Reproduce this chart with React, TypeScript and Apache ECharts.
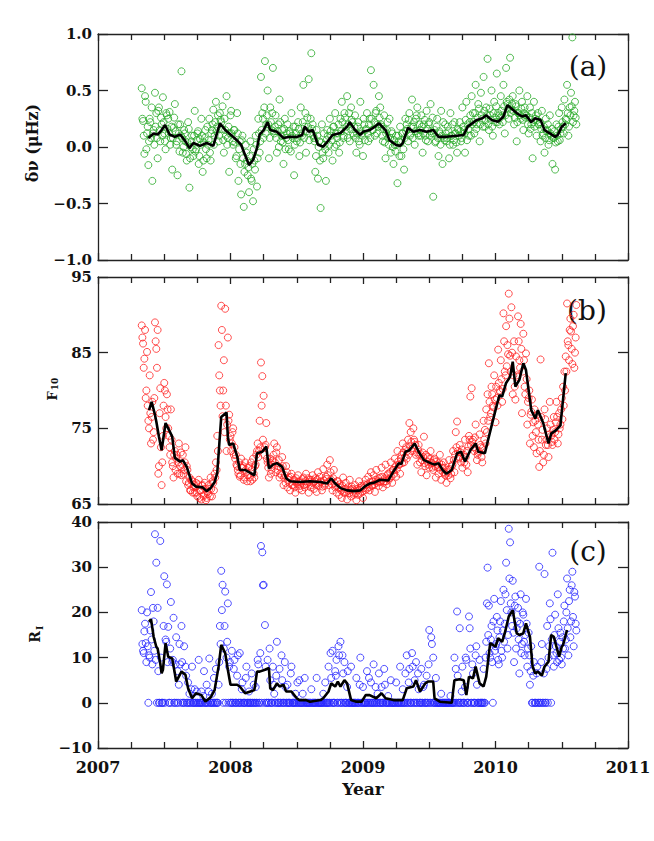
import React, { useEffect, useRef } from "react";
import * as echarts from "echarts";

// sampling: first epoch and step (years); second sample set is offset by half a step
const T0 = 2007.33;
const STEP = 0.01;
const T0B = 2007.335;

// (a) frequency shift, micro-Hz
const dnuValues = [
  0.52, 0.23, -0.06, 0.40, 0.12, -0.16, 0.25, 0.08, -0.30, 0.15,
  0.48, 0.30, -0.10, 0.35, 0.05, 0.20, 0.44, 0.12, -0.02, 0.28,
  0.25, 0.31, 0.08, -0.20, 0.17, 0.38, 0.02, -0.25, 0.12, 0.20,
  0.67, -0.05, 0.15, 0.05, -0.12, 0.22, -0.36, 0.0, 0.10, -0.08,
  0.32, -0.02, 0.12, -0.15, 0.07, 0.25, -0.22, 0.04, 0.15, -0.10,
  0.02, 0.25, -0.12, 0.15, 0.33, 0.10, 0.40, 0.18, 0.05, 0.30,
  0.22, 0.36, -0.05, 0.15, 0.45, 0.08, -0.22, 0.28, 0.12, 0.02,
  0.15, -0.10, 0.30, -0.30, 0.05, -0.42, 0.10, -0.53, -0.15, -0.05,
  -0.25, -0.40, 0.05, -0.30, -0.48, -0.12, 0.10, -0.35, 0.25, -0.05,
  0.62, 0.30, 0.08, 0.76, 0.20, 0.50, -0.10, 0.35, 0.15, 0.70,
  0.12, 0.28, -0.05, 0.20, 0.42, 0.05, 0.15, -0.15, 0.25, 0.08,
  0.20, -0.02, 0.12, 0.30, 0.08, -0.25, 0.18, 0.05, 0.22, -0.08,
  0.35, 0.10, 0.55, 0.18, -0.05, 0.26, 0.60, 0.12, 0.83, 0.20,
  0.08, -0.22, 0.15, -0.28, 0.05, -0.54, 0.20, -0.10, 0.02, -0.30,
  0.15, -0.05, 0.25, 0.10, -0.12, 0.18, 0.30, 0.02, 0.12, -0.05,
  0.25, 0.40, 0.08, 0.30, 0.15, 0.45, 0.20, 0.05, 0.35, 0.22,
  0.10, 0.28, -0.05, 0.18, 0.05, 0.40, 0.12, -0.08, 0.20, 0.15,
  0.30, 0.05, 0.25, 0.68, 0.15, 0.55, 0.10, 0.32, 0.20, 0.45,
  0.35, 0.18, 0.05, 0.28, -0.10, 0.15, 0.08, 0.25, -0.05, 0.12,
  -0.15, 0.02, 0.10, -0.32, 0.05, 0.18, -0.08, 0.12, -0.20, 0.25,
  0.20, 0.05, 0.30, 0.12, 0.42, 0.18, 0.02, 0.25, 0.35, 0.10,
  0.15, 0.28, -0.05, 0.20, 0.10, 0.32, 0.05, 0.22, 0.38, 0.12,
  -0.44, 0.15, 0.05, 0.25, -0.08, 0.12, 0.32, -0.15, 0.08, 0.20,
  0.05, 0.18, -0.10, 0.30, 0.10, 0.02, 0.22, 0.12, -0.05, 0.15,
  0.22, 0.05, 0.35, 0.15, -0.05, 0.40, 0.20, 0.10, 0.28, 0.45,
  0.30, 0.12, 0.55, 0.20, 0.38, 0.05, 0.48, 0.25, 0.62, 0.18,
  0.35, 0.78, 0.15, 0.28, 0.50, 0.10, 0.40, 0.22, 0.65, 0.30,
  0.20, 0.45, 0.28, 0.55, 0.12, 0.70, 0.38, 0.25, 0.79, 0.33,
  0.45, 0.20, 0.38, 0.05, 0.30, 0.50, 0.25, 0.40, 0.15, 0.35,
  0.28, 0.45, 0.12, 0.35, 0.20, -0.10, 0.40, 0.25, 0.10, 0.30,
  0.20, 0.05, 0.32, 0.12, -0.05, 0.25, 0.15, 0.02, 0.28, 0.10,
  -0.15, 0.08, -0.20, 0.20, 0.05, 0.30, 0.12, 0.35, 0.18, 0.42,
  0.25, 0.55, 0.10, 0.35, 0.48, 0.97, 0.28, 0.40, 0.20,
];
const dnuValuesB = [
  0.25, 0.10, 0.45, -0.02, 0.18, 0.05, 0.22, 0.35, 0.12, 0.02,
  0.18, 0.08, 0.32, 0.15, 0.26, 0.10, 0.22, 0.05, 0.30, 0.16,
  0.12, 0.02, 0.18, 0.08, 0.26, 0.14, 0.05, 0.20, -0.04, 0.10,
  0.08, 0.00, 0.12, -0.06, 0.04, 0.16, -0.10, 0.05, -0.02, 0.10,
  -0.04, 0.06, 0.14, -0.08, 0.02, 0.10, -0.12, 0.08, -0.02, 0.18,
  0.06, -0.05, 0.12, 0.20, 0.02, 0.22, 0.14, 0.28, 0.10, 0.24,
  0.16, 0.06, 0.25, 0.10, 0.02, 0.18, 0.12, 0.32, 0.05, 0.15,
  0.04, -0.08, 0.12, -0.02, -0.15, 0.06, -0.10, -0.22, 0.02, -0.12,
  -0.18, -0.08, -0.28, -0.15, -0.02, -0.20, 0.02, -0.10, 0.12, 0.05,
  0.15, 0.25, 0.35, 0.12, 0.28, 0.20, 0.08, 0.22, 0.30, 0.14,
  0.18, 0.08, 0.14, 0.00, 0.22, 0.10, 0.04, 0.16, -0.02, 0.12,
  0.06, 0.14, -0.04, 0.10, 0.18, 0.02, 0.12, 0.08, 0.16, 0.04,
  0.12, 0.22, 0.08, 0.30, 0.14, 0.18, 0.06, 0.25, 0.16, 0.10,
  0.05, -0.08, 0.10, 0.00, -0.12, 0.04, -0.05, 0.12, -0.02, 0.06,
  0.10, 0.02, 0.14, 0.06, 0.18, 0.00, 0.12, 0.08, 0.20, 0.04,
  0.14, 0.22, 0.10, 0.26, 0.18, 0.08, 0.30, 0.16, 0.24, 0.12,
  0.18, 0.08, 0.12, 0.22, 0.02, 0.14, 0.10, 0.25, 0.06, 0.16,
  0.12, 0.20, 0.08, 0.25, 0.15, 0.22, 0.30, 0.12, 0.18, 0.26,
  0.20, 0.10, 0.16, 0.04, 0.12, 0.22, 0.02, 0.08, 0.14, 0.00,
  0.06, -0.04, 0.02, 0.10, -0.08, 0.04, 0.12, -0.02, 0.08, 0.14,
  0.16, 0.24, 0.10, 0.18, 0.08, 0.22, 0.14, 0.28, 0.12, 0.20,
  0.10, 0.18, 0.12, 0.24, 0.06, 0.16, 0.20, 0.10, 0.14, 0.26,
  0.12, 0.04, 0.18, 0.08, 0.14, 0.02, 0.10, 0.22, 0.06, 0.12,
  0.08, 0.14, 0.02, 0.10, 0.20, 0.06, 0.12, 0.04, 0.16, 0.10,
  0.14, 0.08, 0.18, 0.12, 0.24, 0.06, 0.16, 0.22, 0.10, 0.20,
  0.22, 0.30, 0.16, 0.26, 0.34, 0.20, 0.28, 0.18, 0.32, 0.24,
  0.28, 0.20, 0.34, 0.24, 0.18, 0.30, 0.26, 0.36, 0.22, 0.28,
  0.26, 0.32, 0.22, 0.36, 0.28, 0.40, 0.34, 0.42, 0.30, 0.38,
  0.32, 0.26, 0.36, 0.22, 0.30, 0.28, 0.34, 0.24, 0.30, 0.26,
  0.28, 0.20, 0.26, 0.16, 0.30, 0.22, 0.18, 0.28, 0.24, 0.20,
  0.22, 0.16, 0.10, 0.18, 0.08, 0.14, 0.20, 0.06, 0.12, 0.16,
  0.08, 0.14, 0.04, 0.10, 0.18, 0.06, 0.16, 0.22, 0.12, 0.20,
  0.24, 0.30, 0.18, 0.28, 0.36, 0.22, 0.32, 0.26,
];

// (b) 10.7 cm radio flux
const f10Values = [
  88.6, 86.2, 84.2, 79.0, 85.1, 76.0, 82.0, 73.0, 78.5, 74.5,
  89.0, 85.5, 88.0, 70.0, 80.3, 67.5, 74.0, 81.0, 76.5, 79.5,
  75.0, 72.5, 77.5, 70.5, 68.5, 72.0, 71.0, 69.0, 73.0, 70.0,
  68.8, 71.5, 69.5, 72.5, 70.0, 67.5, 68.5, 66.8, 68.0, 67.2,
  66.5, 67.8, 66.0, 68.2, 66.8, 65.6, 67.5, 66.2, 67.0, 65.8,
  66.3, 67.0, 68.5, 66.0, 67.8, 69.0, 70.5, 74.0, 86.0, 80.0,
  91.2, 76.6, 84.0, 90.8, 72.0, 87.0, 76.8, 74.0, 73.0, 75.0,
  72.5, 71.5, 70.0, 69.0, 68.6, 71.0, 69.8, 68.2, 70.5, 69.2,
  68.8, 70.0, 68.0, 69.5, 71.0, 68.5, 70.2, 72.0, 71.2, 76.0,
  83.7, 81.9, 79.3, 72.5, 75.7, 70.5, 68.5, 71.0, 69.5, 70.8,
  73.0, 69.2, 72.5, 70.0, 68.5, 69.8, 71.2, 67.5, 68.8, 70.0,
  67.2, 68.5, 66.8, 69.0, 67.5, 68.2, 66.5, 67.8, 68.8, 67.0,
  68.0, 66.8, 68.5, 67.2, 69.0, 67.8, 66.5, 68.2, 67.5, 68.8,
  67.0, 68.4, 66.6, 69.2, 67.8, 68.0, 66.8, 69.6, 67.4, 68.6,
  70.2, 67.5, 70.8, 68.2, 66.8, 69.5, 67.2, 66.5, 68.0, 66.2,
  67.2, 65.8, 68.5, 66.5, 67.8, 65.6, 66.8, 68.2, 66.0, 67.0,
  66.2, 67.5, 65.5, 66.8, 68.0, 66.4, 67.2, 65.8, 67.6, 68.2,
  67.0, 68.6, 66.8, 69.2, 67.5, 68.8, 66.6, 69.5, 68.0, 67.4,
  68.5, 69.8, 67.2, 68.0, 70.2, 67.6, 69.0, 68.4, 70.5, 67.8,
  69.5, 71.0, 68.6, 72.0, 70.2, 69.0, 71.5, 73.0, 70.5, 72.2,
  71.0, 73.5, 75.7, 74.5, 72.0, 75.0, 73.2, 71.5, 70.2, 72.8,
  70.5, 69.2, 71.8, 73.9, 70.0, 68.8, 71.2, 69.8, 72.0, 70.4,
  69.5, 71.0, 68.5, 70.2, 69.0, 71.5, 68.2, 69.8, 70.5, 68.8,
  67.8, 69.5, 70.8, 68.4, 70.0, 72.0, 69.2, 74.5, 75.9, 71.0,
  72.8, 70.5, 69.8, 71.5, 73.5, 70.2, 69.2, 74.0, 79.2, 80.3,
  73.5, 72.0, 75.5, 70.8, 71.8, 74.2, 72.5, 70.5, 76.0, 74.8,
  77.5, 79.5, 83.6, 76.5, 80.5, 78.0, 82.0, 75.8, 79.0, 85.4,
  80.0, 84.0, 78.5, 90.2, 82.5, 88.5, 86.0, 92.8, 84.6, 91.0,
  79.5, 86.5, 78.8, 82.0, 89.8, 84.0, 88.8, 77.0, 87.5, 80.5,
  84.9, 75.5, 79.0, 73.0, 77.2, 74.0, 72.5, 76.0, 71.7, 75.5,
  69.9, 84.1, 73.5, 70.5, 77.5, 72.8, 75.0, 71.2, 78.5, 74.0,
  72.8, 76.5, 74.5, 78.5, 73.0, 77.0, 75.5, 79.0, 80.5, 82.5,
  84.5, 91.5, 86.0, 88.0, 87.8, 83.5, 90.0, 85.0, 91.3,
];
const f10ValuesB = [
  87.0, 83.0, 88.0, 80.0, 78.0, 75.0, 77.0, 76.5, 73.5, 79.0,
  86.5, 83.0, 69.0, 77.0, 72.5, 70.5, 78.0, 80.0, 75.0, 77.5,
  74.0, 71.5, 73.5, 70.0, 71.5, 69.5, 71.5, 70.5, 69.0, 71.8,
  70.2, 69.0, 70.5, 68.0, 69.5, 67.8, 66.8, 68.2, 66.5, 67.5,
  67.2, 66.5, 67.6, 65.8, 66.8, 67.4, 66.0, 67.8, 65.5, 66.6,
  67.5, 66.0, 67.0, 68.0, 66.8, 68.5, 69.5, 72.0, 82.0, 78.0,
  88.0, 80.0, 74.5, 78.0, 75.5, 76.0, 73.5, 72.0, 74.5, 71.5,
  71.0, 70.2, 69.5, 70.5, 68.8, 69.8, 70.0, 68.5, 69.5, 68.0,
  69.8, 68.5, 70.5, 68.2, 69.0, 70.0, 71.5, 73.0, 72.0, 72.5,
  78.0, 73.5, 71.5, 72.8, 71.0, 69.8, 70.5, 69.0, 70.2, 71.5,
  70.5, 71.8, 69.5, 70.8, 69.0, 68.8, 70.0, 68.5, 67.8, 69.2,
  68.2, 67.8, 68.6, 67.5, 68.0, 67.2, 68.4, 67.6, 68.0, 67.4,
  67.8, 68.3, 67.5, 68.0, 67.6, 68.4, 67.9, 67.2, 68.2, 67.8,
  68.0, 67.6, 68.2, 67.4, 68.6, 67.9, 67.3, 68.1, 67.7, 68.3,
  68.8, 68.0, 69.2, 67.6, 68.4, 67.8, 67.4, 68.0, 67.2, 67.6,
  66.8, 67.4, 66.5, 67.0, 66.6, 67.2, 66.4, 66.9, 67.3, 66.5,
  66.8, 66.4, 67.0, 66.2, 66.9, 67.4, 66.6, 67.1, 66.8, 67.5,
  67.6, 67.2, 67.9, 67.4, 68.0, 67.6, 68.2, 67.8, 68.4, 67.9,
  68.0, 68.6, 67.8, 68.4, 68.0, 68.8, 68.2, 69.2, 68.6, 69.5,
  69.0, 70.0, 69.6, 70.6, 70.2, 71.0, 70.4, 71.8, 71.2, 72.5,
  72.0, 71.5, 72.6, 73.2, 72.4, 73.5, 72.8, 71.8, 72.2, 71.5,
  71.6, 70.8, 71.2, 70.4, 71.5, 70.6, 70.2, 71.0, 70.5, 69.8,
  70.8, 70.0, 70.6, 69.8, 70.4, 69.5, 70.2, 69.2, 69.8, 69.0,
  69.2, 68.8, 69.6, 69.0, 70.2, 70.8, 71.5, 72.5, 72.0, 71.2,
  71.8, 72.2, 71.0, 70.5, 71.2, 72.0, 72.6, 73.5, 72.8, 73.2,
  72.5, 73.8, 72.2, 71.5, 72.0, 72.8, 71.2, 72.4, 73.5, 73.0,
  74.5, 76.0, 78.5, 77.0, 79.5, 77.8, 78.8, 80.5, 78.0, 81.0,
  79.8, 81.5, 80.2, 86.5, 82.0, 83.2, 84.8, 89.5, 82.5, 85.0,
  82.0, 80.5, 84.5, 81.8, 86.5, 83.0, 85.5, 82.5, 84.0, 79.5,
  81.5, 78.5, 80.0, 76.8, 78.8, 75.8, 77.5, 74.5, 76.8, 73.5,
  72.0, 76.5, 74.8, 71.5, 76.2, 73.5, 72.8, 74.2, 75.5, 73.2,
  74.8, 73.5, 75.8, 76.5, 74.2, 75.0, 77.5, 76.2, 78.0, 80.0,
  82.5, 86.5, 84.0, 89.5, 85.5, 88.5, 83.0, 87.0,
];

// (c) international sunspot number
const riValues = [
  20.5, 11.5, 15.8, 13.2, 20.0, 0, 10.0, 24.5, 8.5, 18.0,
  37.3, 31.0, 21.0, 0, 35.8, 0, 0, 28.0, 14.0, 26.2,
  16.8, 0, 22.3, 9.0, 18.8, 0, 14.5, 7.0, 4.0, 8.5,
  17.0, 0, 12.5, 8.0, 0, 4.5, 2.0, 0, 8.0, 0,
  3.0, 0, 0, 9.5, 0, 2.5, 0, 7.0, 0, 4.0,
  0, 9.8, 0, 2.0, 0, 0, 7.5, 0, 4.0, 17.0,
  29.2, 26.1, 12.0, 24.6, 10.0, 22.0, 8.0, 0, 11.5, 0,
  9.5, 0, 6.0, 0, 11.0, 0, 4.5, 0, 0, 8.0,
  0, 2.5, 0, 6.5, 0, 0, 3.5, 0, 8.5, 0,
  34.7, 33.3, 26.1, 17.2, 0, 9.5, 0, 5.0, 0, 8.0,
  2.0, 0, 13.5, 0, 7.5, 0, 5.0, 0, 9.0, 0,
  4.0, 0, 0, 8.0, 0, 0, 2.0, 0, 0, 5.0,
  0, 0, 0, 5.5, 0, 0, 0, 0, 3.0, 0,
  0, 0, 5.5, 0, 0, 0, 0, 2.0, 0, 0,
  0, 8.0, 0, 5.5, 11.5, 0, 7.0, 9.5, 0, 10.5,
  13.5, 0, 6.5, 9.0, 0, 3.5, 0, 0, 8.0, 0,
  0, 0, 5.5, 0, 0, 10.0, 0, 3.5, 0, 0,
  7.0, 0, 0, 4.5, 0, 8.5, 0, 0, 2.0, 6.5,
  0, 3.5, 0, 7.5, 0, 0, 1.5, 0, 5.0, 0,
  0, 0, 4.5, 0, 0, 8.0, 0, 3.0, 0, 6.5,
  10.5, 0, 7.5, 0, 11.0, 0, 5.0, 9.0, 0, 3.0,
  0, 7.5, 0, 4.0, 0, 6.0, 0, 16.1, 0, 13.0,
  10.0, 0, 5.5, 0, 0, 0, 2.0, 0, 0, 0,
  0, 0, 0, 1.5, 0, 0, 10.0, 7.5, 20.2, 0,
  16.5, 0, 8.0, 0, 3.5, 9.5, 0, 19.1, 12.0, 0,
  6.5, 0, 10.5, 4.0, 0, 9.5, 0, 0, 7.5, 0,
  13.5, 29.9, 21.5, 10.0, 17.0, 0, 23.0, 12.5, 19.0, 9.5,
  14.5, 22.5, 10.0, 25.0, 17.5, 31.0, 12.0, 38.5, 35.5, 20.0,
  27.0, 9.0, 23.5, 16.5, 21.0, 6.5, 24.0, 13.0, 19.5, 10.5,
  23.0, 8.0, 15.5, 4.0, 12.5, 0, 9.0, 0, 6.5, 0,
  30.1, 0, 13.0, 0, 28.5, 0, 17.0, 10.0, 22.0, 0,
  33.2, 8.0, 19.5, 11.0, 24.0, 9.5, 15.5, 8.5, 12.0, 21.5,
  14.0, 27.5, 10.5, 25.0, 18.0, 29.0, 12.5, 23.5, 16.0,
];
const riValuesB = [
  13.0, 11.0, 17.5, 9.0, 12.5, 10.5, 16.0, 14.0, 21.0, 11.5,
  9.5, 0, 7.0, 0, 10.0, 0, 17.0, 0, 13.5, 9.0,
  0, 12.0, 0, 9.5, 0, 8.5, 0, 0, 13.0, 0,
  9.0, 0, 0, 6.0, 0, 0, 0, 3.0, 0, 0,
  0, 2.5, 0, 0, 0, 0, 1.5, 0, 0, 0,
  2.5, 0, 0, 0, 5.5, 0, 0, 0, 9.0, 13.0,
  20.5, 0, 17.0, 0, 13.5, 0, 9.0, 0, 0, 7.5,
  0, 0, 10.5, 0, 0, 3.0, 0, 0, 5.5, 0,
  0, 0, 0, 0, 4.0, 0, 0, 9.5, 0, 11.0,
  0, 26.0, 0, 8.0, 0, 0, 12.0, 0, 0, 4.0,
  0, 6.0, 0, 0, 0, 10.5, 0, 0, 3.5, 0,
  0, 0, 6.5, 0, 0, 0, 0, 4.5, 0, 0,
  0, 2.0, 0, 0, 0, 0, 0, 0, 0, 0,
  0, 0, 0, 0, 0, 0, 0, 0, 4.5, 0,
  0, 0, 11.0, 0, 0, 0, 6.0, 0, 12.5, 0,
  0, 10.5, 0, 0, 0, 7.0, 0, 0, 0, 0,
  0, 0, 0, 0, 4.0, 0, 0, 0, 0, 0,
  0, 5.5, 0, 0, 0, 0, 3.5, 0, 0, 0,
  0, 0, 0, 4.0, 0, 0, 0, 0, 0, 0,
  0, 0, 0, 0, 0, 0, 0, 0, 0, 0,
  0, 4.5, 0, 0, 8.0, 0, 0, 0, 6.5, 0,
  0, 0, 3.5, 0, 0, 0, 8.5, 0, 14.5, 0,
  0, 0, 0, 0, 0, 0, 0, 0, 0, 0,
  0, 0, 0, 0, 0, 0, 0, 0, 6.0, 0,
  0, 2.5, 0, 0, 10.0, 0, 0, 16.5, 0, 8.5,
  0, 0, 12.5, 0, 0, 0, 0, 0, 0, 10.0,
  22.0, 15.0, 11.0, 14.0, 9.0, 18.0, 11.5, 13.0, 16.0, 8.5,
  18.0, 11.5, 16.0, 13.5, 24.0, 20.5, 15.0, 27.5, 22.0, 17.0,
  15.5, 21.5, 12.0, 18.0, 14.0, 17.5, 11.0, 20.0, 13.5, 15.0,
  17.5, 12.0, 10.5, 7.0, 0, 6.0, 0, 0, 8.0, 0,
  0, 9.0, 0, 6.5, 0, 7.5, 0, 12.5, 18.5, 14.0,
  10.5, 15.0, 12.5, 9.0, 16.5, 13.5, 10.0, 14.5, 18.0, 12.0,
  20.0, 16.5, 22.5, 14.5, 26.0, 19.0, 24.5, 17.5,
];

// smoothed curves [year, value]
const dnuSmooth = [
  [2007.38, 0.08], [2007.42, 0.12], [2007.45, 0.11], [2007.48, 0.15], [2007.506, 0.195],
  [2007.54, 0.11], [2007.58, 0.09], [2007.62, 0.11], [2007.66, 0.05], [2007.69, -0.01],
  [2007.72, 0.035], [2007.77, 0.01], [2007.82, 0.035], [2007.87, 0.01], [2007.92, 0.21],
  [2007.96, 0.15], [2008.0, 0.11], [2008.03, 0.08], [2008.06, 0.045], [2008.08, 0.02],
  [2008.11, -0.07], [2008.14, -0.16], [2008.17, -0.115], [2008.2, -0.01], [2008.22, 0.11],
  [2008.25, 0.15], [2008.28, 0.22], [2008.3, 0.15], [2008.35, 0.135], [2008.4, 0.08],
  [2008.45, 0.09], [2008.5, 0.088], [2008.54, 0.106], [2008.56, 0.18], [2008.59, 0.135],
  [2008.62, 0.15], [2008.66, 0.02], [2008.7, 0.003], [2008.74, 0.06], [2008.77, 0.106],
  [2008.83, 0.124], [2008.88, 0.18], [2008.9, 0.22], [2008.94, 0.15], [2008.98, 0.106],
  [2009.0, 0.135], [2009.05, 0.15], [2009.09, 0.18], [2009.12, 0.21], [2009.17, 0.15],
  [2009.2, 0.06], [2009.25, 0.018], [2009.28, 0.01], [2009.3, 0.035], [2009.34, 0.17],
  [2009.38, 0.135], [2009.43, 0.15], [2009.48, 0.135], [2009.53, 0.15], [2009.57, 0.09],
  [2009.63, 0.09], [2009.71, 0.1], [2009.76, 0.106], [2009.79, 0.18], [2009.86, 0.24],
  [2009.9, 0.254], [2009.93, 0.28], [2009.97, 0.24], [2010.02, 0.224], [2010.06, 0.27],
  [2010.09, 0.37], [2010.12, 0.34], [2010.16, 0.3], [2010.2, 0.27], [2010.23, 0.28],
  [2010.27, 0.22], [2010.3, 0.254], [2010.34, 0.24], [2010.37, 0.15], [2010.41, 0.12],
  [2010.45, 0.09], [2010.47, 0.106], [2010.5, 0.18], [2010.53, 0.21],
];

const f10Smooth = [
  [2007.385, 77.4], [2007.405, 78.5], [2007.43, 76.8], [2007.44, 75.9], [2007.46, 73.9],
  [2007.48, 72.1], [2007.51, 75.7], [2007.53, 75.0], [2007.56, 73.9], [2007.58, 71.1],
  [2007.62, 70.6], [2007.64, 70.8], [2007.67, 69.9], [2007.71, 67.7], [2007.74, 67.3],
  [2007.79, 67.2], [2007.82, 66.7], [2007.85, 67.1], [2007.88, 67.9], [2007.9, 69.1],
  [2007.93, 76.5], [2007.97, 77.1], [2007.98, 73.9], [2007.99, 72.8], [2008.02, 73.0],
  [2008.05, 71.3], [2008.07, 69.5], [2008.11, 69.5], [2008.15, 69.1], [2008.18, 68.8],
  [2008.2, 71.7], [2008.24, 71.9], [2008.27, 72.6], [2008.29, 69.7], [2008.32, 70.2],
  [2008.35, 70.4], [2008.39, 69.9], [2008.42, 68.4], [2008.45, 68.0], [2008.52, 67.9],
  [2008.6, 68.0], [2008.68, 67.9], [2008.73, 67.7], [2008.76, 68.4], [2008.79, 67.7],
  [2008.83, 67.1], [2008.88, 66.8], [2008.93, 66.7], [2008.98, 66.8], [2009.02, 67.4],
  [2009.05, 67.7], [2009.08, 67.8], [2009.13, 68.2], [2009.19, 68.1], [2009.23, 69.3],
  [2009.27, 70.4], [2009.29, 70.3], [2009.32, 71.9], [2009.35, 72.1], [2009.39, 73.0],
  [2009.42, 71.9], [2009.46, 70.8], [2009.51, 70.4], [2009.54, 70.2], [2009.57, 70.4],
  [2009.6, 69.5], [2009.63, 69.0], [2009.67, 69.5], [2009.71, 71.7], [2009.74, 71.9],
  [2009.77, 70.6], [2009.81, 72.1], [2009.85, 73.0], [2009.87, 71.9], [2009.92, 71.7],
  [2009.95, 73.9], [2010.0, 77.4], [2010.03, 79.4], [2010.05, 79.2], [2010.08, 81.0],
  [2010.11, 81.8], [2010.13, 83.8], [2010.15, 80.5], [2010.18, 81.4], [2010.21, 83.6],
  [2010.23, 82.7], [2010.27, 77.4], [2010.3, 76.3], [2010.32, 77.4], [2010.36, 75.7],
  [2010.4, 73.0], [2010.42, 74.3], [2010.46, 74.8], [2010.49, 75.4], [2010.53, 82.3],
];

const riSmooth = [
  [2007.385, 17.9], [2007.4, 18.5], [2007.42, 14.6], [2007.44, 12.4], [2007.45, 12.0],
  [2007.47, 8.7], [2007.48, 6.5], [2007.49, 7.3], [2007.51, 13.2], [2007.53, 10.2],
  [2007.56, 9.8], [2007.58, 6.5], [2007.59, 4.7], [2007.63, 6.9], [2007.66, 6.2],
  [2007.68, 3.2], [2007.71, 1.0], [2007.74, 2.1], [2007.78, 1.7], [2007.81, 0.3],
  [2007.85, 1.2], [2007.88, 2.8], [2007.91, 8.0], [2007.93, 12.8], [2007.96, 11.0],
  [2007.98, 7.3], [2008.0, 4.0], [2008.05, 4.0], [2008.07, 3.6], [2008.11, 2.1],
  [2008.15, 2.5], [2008.18, 2.8], [2008.2, 6.9], [2008.22, 6.9], [2008.26, 7.3],
  [2008.29, 7.7], [2008.3, 3.2], [2008.32, 2.8], [2008.35, 4.3], [2008.37, 3.6],
  [2008.4, 4.0], [2008.42, 2.5], [2008.46, 2.5], [2008.5, 1.0], [2008.52, 0.6],
  [2008.57, 0.6], [2008.6, 0.25], [2008.68, 0.6], [2008.7, 1.0], [2008.74, 2.5],
  [2008.76, 4.3], [2008.79, 3.6], [2008.81, 4.7], [2008.83, 3.6], [2008.86, 5.0],
  [2008.88, 4.3], [2008.91, 0.6], [2008.95, 0.25], [2008.99, 0.25], [2009.02, 1.7],
  [2009.05, 1.7], [2009.1, 1.0], [2009.14, 2.1], [2009.17, 1.0], [2009.23, 0.6],
  [2009.3, 0.6], [2009.33, 3.2], [2009.38, 3.6], [2009.4, 5.0], [2009.43, 2.5],
  [2009.47, 4.3], [2009.49, 4.7], [2009.53, 4.7], [2009.54, 1.0], [2009.58, 0.25],
  [2009.67, 0.0], [2009.69, 5.0], [2009.73, 5.2], [2009.76, 5.0], [2009.78, 1.7],
  [2009.8, 5.8], [2009.83, 5.4], [2009.85, 8.0], [2009.88, 4.3], [2009.91, 3.6],
  [2009.93, 5.8], [2009.96, 13.2], [2010.0, 12.4], [2010.02, 14.3], [2010.05, 13.5],
  [2010.07, 15.4], [2010.1, 19.1], [2010.13, 20.5], [2010.16, 15.4], [2010.18, 15.0],
  [2010.21, 15.4], [2010.23, 17.6], [2010.26, 14.6], [2010.28, 8.0], [2010.3, 6.5],
  [2010.32, 6.9], [2010.35, 6.0], [2010.37, 8.0], [2010.4, 9.1], [2010.42, 15.0],
  [2010.44, 14.6], [2010.46, 12.4], [2010.48, 10.2], [2010.5, 12.4], [2010.51, 12.8],
  [2010.54, 16.1],
];

const panelLabels = ["(a)", "(b)", "(c)"];
const xLabelName = "Year";

const FONT = "'DejaVu Serif', 'Liberation Serif', serif";
const AXIS_COLOR = "#222";

const toPoints = (vals: number[], t0: number) =>
  vals.map((v, i) => [Math.round((t0 + i * STEP) * 1000) / 1000, v]);

export default function App() {
  const ref = useRef<HTMLDivElement>(null);

  useEffect(() => {
    if (!ref.current) return;
    const chart = echarts.init(ref.current, undefined, { renderer: "svg" });

    const grids = [
      { left: 98, top: 34, width: 530, height: 226 },
      { left: 98, top: 277, width: 530, height: 227 },
      { left: 98, top: 522, width: 530, height: 226 },
    ];

    const lineStyle = { color: AXIS_COLOR, width: 1.3 };

    const xAxes: any[] = [];
    grids.forEach((_, g) => {
      ["bottom", "top"].forEach((pos) => {
        xAxes.push({
          type: "value",
          gridIndex: g,
          position: pos,
          min: 2007,
          max: 2011,
          interval: 1,
          axisLine: { show: true, onZero: false, lineStyle },
          axisTick: { show: true, inside: true, length: 7, lineStyle },
          minorTick: { show: true, splitNumber: 4, length: 6, lineStyle },
          splitLine: { show: false },
          minorSplitLine: { show: false },
          axisLabel: {
            show: g === 2 && pos === "bottom",
            fontFamily: FONT,
            fontSize: 16,
            fontWeight: "bold",
            color: "#111",
            margin: 11,
            formatter: (v: number) => String(v),
          },
        });
      });
    });

    const yRanges = [
      { min: -1, max: 1, interval: 0.5, fmt: (v: number) => v.toFixed(1) },
      { min: 65, max: 95, interval: 10, fmt: (v: number) => String(Math.round(v)) },
      { min: -10, max: 40, interval: 10, fmt: (v: number) => String(Math.round(v)) },
    ];

    const yAxes: any[] = [];
    yRanges.forEach((r, g) => {
      ["left", "right"].forEach((pos) => {
        yAxes.push({
          type: "value",
          gridIndex: g,
          position: pos,
          min: r.min,
          max: r.max,
          interval: r.interval,
          axisLine: { show: true, onZero: false, lineStyle },
          axisTick: { show: true, inside: true, length: 10, lineStyle },
          splitLine: { show: false },
          axisLabel: {
            show: pos === "left",
            fontFamily: FONT,
            fontSize: 15,
            fontWeight: "bold",
            color: "#111",
            margin: 6,
            formatter: (v: number) => r.fmt(v).replace("-", "\u2212"),
          },
        });
      });
    });

    const scatterSets = [
      { data: [...toPoints(dnuValues, T0), ...toPoints(dnuValuesB, T0B)], color: "#28aa28" },
      { data: [...toPoints(f10Values, T0), ...toPoints(f10ValuesB, T0B)], color: "#ff2424" },
      { data: [...toPoints(riValues, T0), ...toPoints(riValuesB, T0B)], color: "#2424ff" },
    ];
    const smoothSets = [dnuSmooth, f10Smooth, riSmooth];

    const series: any[] = [];
    scatterSets.forEach((s, g) => {
      series.push({
        type: "scatter",
        xAxisIndex: 2 * g,
        yAxisIndex: 2 * g,
        data: s.data,
        symbol: "circle",
        symbolSize: 7,
        itemStyle: { color: "rgba(0,0,0,0)", borderColor: s.color, borderWidth: 1 },
        silent: true,
        z: 2,
      });
      series.push({
        type: "line",
        xAxisIndex: 2 * g,
        yAxisIndex: 2 * g,
        data: smoothSets[g],
        showSymbol: false,
        lineStyle: { color: "#000", width: 2.6 },
        silent: true,
        z: 3,
      });
    });

    const labelPos = [
      [588, 66],
      [587, 310],
      [588, 551],
    ];

    const txt = (x: number, y: number, text: string, size: number, bold: boolean, rot = 0) => ({
      type: "text",
      x,
      y,
      rotation: rot,
      style: {
        text,
        fontFamily: FONT,
        fontSize: size,
        fontWeight: bold ? "bold" : "normal",
        fill: "#111",
        textAlign: "center",
        textVerticalAlign: "middle",
      },
    });

    const graphic: any[] = [];
    panelLabels.forEach((t, i) => {
      graphic.push(txt(labelPos[i][0], labelPos[i][1], t, 28, false));
    });
    graphic.push(txt(32, 143, "\u03b4\u03bd (\u03bcHz)", 16, true, Math.PI / 2));
    graphic.push(txt(52, 396, "F", 13, true, Math.PI / 2));
    graphic.push(txt(55, 384, "10", 9, true, Math.PI / 2));
    graphic.push(txt(35, 637, "R", 14, true, Math.PI / 2));
    graphic.push(txt(40, 628, "I", 9, true, Math.PI / 2));
    graphic.push(txt(363, 789, xLabelName, 17, true));

    chart.setOption({
      animation: false,
      backgroundColor: "#fff",
      grid: grids.map((g) => ({ ...g, containLabel: false })),
      xAxis: xAxes,
      yAxis: yAxes,
      series,
      graphic,
    });

    return () => chart.dispose();
  }, []);

  return (
    <div
      ref={ref}
      style={{ position: "absolute", left: 0, top: 0, width: 654, height: 841 }}
    />
  );
}
